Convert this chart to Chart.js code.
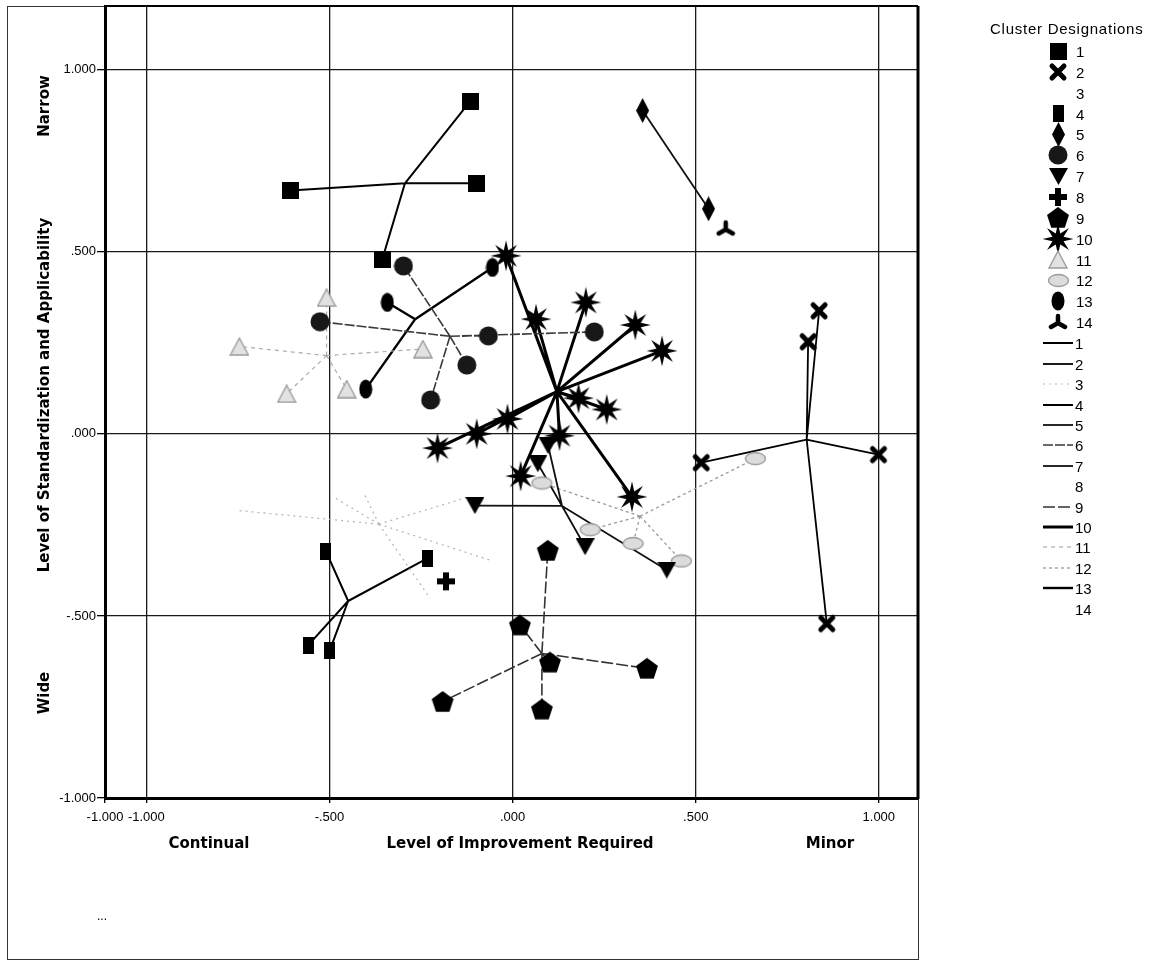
<!DOCTYPE html>
<html>
<head>
<meta charset="utf-8">
<script src="https://cdn.jsdelivr.net/npm/chart.js@4.4.0/dist/chart.umd.min.js"></script>
<style>
  body { margin: 0; background: #fff; }
  #wrap { position: relative; width: 1154px; height: 961px; overflow: hidden; }
  #frame { position: absolute; left: 7px; top: 6px; width: 910px; height: 952px; border: 1px solid #333; }
  #chart { position: absolute; left: 0; top: 0; }
  .t { position: absolute; font-family: "DejaVu Sans", sans-serif; font-weight: bold; font-size: 15px;
       white-space: nowrap; transform: translate(-50%, -50%); color: #000; line-height: 1; }
  .rot { transform: translate(-50%, -50%) rotate(-90deg); }
  .lg { position: absolute; font-family: "Liberation Sans", Arial, sans-serif; font-size: 15px;
        white-space: nowrap; transform: translateY(-50%); line-height: 1; color: #000; }
  .ic { position: absolute; }
</style>
</head>
<body>
<div id="wrap">
  <div id="frame"></div>
  <canvas id="chart" width="1154" height="961"></canvas>
</div>
<script>
// values: member points and cluster centres (x = improvement, y = standardization)
const clusterNames = ['1','2','3','4','5','6','7','8','9','10','11','12','13','14'];

const pts1 = [[-0.606, 0.668], [-0.116, 0.913], [-0.098, 0.688], [-0.356, 0.479]];
const pts2 = [[0.837, 0.338], [0.807, 0.253], [0.515, -0.079], [0.999, -0.057], [0.858, -0.521]];
const pts3 = [[-0.754, -0.210], [-0.136, -0.178], [-0.490, -0.173], [-0.403, -0.169], [-0.225, -0.452], [-0.061, -0.347]];
const pts4 = [[-0.510, -0.322], [-0.233, -0.342], [-0.558, -0.580], [-0.499, -0.594]];
const pts5 = [[0.355, 0.888], [0.535, 0.618]];
const pts6 = [[-0.298, 0.461], [-0.526, 0.308], [-0.066, 0.269], [-0.125, 0.189], [-0.224, 0.093], [0.223, 0.280]];
const pts7 = [[0.097, -0.032], [0.069, -0.082], [0.198, -0.310], [0.421, -0.374], [-0.103, -0.197]];
const pts8 = [[-0.182, -0.405]];
const pts9 = [[0.020, -0.525], [0.102, -0.627], [0.367, -0.644], [0.080, -0.756], [0.096, -0.320], [-0.191, -0.735]];
const pts10 = [[-0.018, 0.489], [0.064, 0.315], [0.200, 0.361], [0.335, 0.299], [0.408, 0.228], [0.180, 0.098],
               [0.257, 0.067], [-0.014, 0.041], [-0.098, 0.000], [-0.205, -0.039], [0.128, -0.005], [0.022, -0.116], [0.326, -0.173]];
const pts11 = [[-0.508, 0.374], [-0.746, 0.240], [-0.245, 0.233], [-0.617, 0.110], [-0.453, 0.123]];
const pts12 = [[0.663, -0.068], [0.080, -0.135], [0.212, -0.263], [0.329, -0.301], [0.461, -0.349]];
const pts13 = [[-0.342, 0.361], [-0.401, 0.123], [-0.055, 0.457]];
const pts14 = [[0.582, 0.564]];

const centres = [[-0.294, 0.688], [0.803, -0.016], [-0.365, -0.248], [-0.449, -0.459], [0.445, 0.753],
                 [-0.171, 0.268], [0.135, -0.198], null, [0.080, -0.603], [0.121, 0.116],
                 [-0.508, 0.215], [0.348, -0.226], [-0.266, 0.315], null];

const xTickValues = [-1.113, -1, -0.5, 0, 0.5, 1];
const xTickLabels = ['-1.000', '-1.000', '-.500', '.000', '.500', '1.000'];
const yTickValues = [-1, -0.5, 0, 0.5, 1];
const yTickLabels = ['-1.000', '-.500', '.000', '.500', '1.000'];

const allPts = [pts1, pts2, pts3, pts4, pts5, pts6, pts7, pts8, pts9, pts10, pts11, pts12, pts13, pts14];

// ---- marker glyphs ----
function mk(w, h, draw) {
  const c = document.createElement('canvas');
  c.width = w; c.height = h;
  draw(c.getContext('2d'), w, h);
  return c;
}
function poly(g, n, cx, cy, r, rot) {
  g.beginPath();
  for (let i = 0; i < n; i++) {
    const a = rot + i * 2 * Math.PI / n;
    const px = cx + r * Math.cos(a), py = cy + r * Math.sin(a);
    i ? g.lineTo(px, py) : g.moveTo(px, py);
  }
  g.closePath();
}
function makeMarker(k) {
  switch (k) {
    case 1: return mk(17, 17, g => { g.fillStyle = '#000'; g.fillRect(0, 0, 17, 17); });
    case 2: return mk(20, 20, g => {
      g.strokeStyle = '#000'; g.lineWidth = 5; g.lineCap = 'round';
      g.beginPath(); g.moveTo(4, 4); g.lineTo(16, 16); g.moveTo(16, 4); g.lineTo(4, 16); g.stroke();
    });
    case 3: return null;
    case 4: return mk(11, 17, g => { g.fillStyle = '#000'; g.fillRect(0, 0, 11, 17); });
    case 5: return mk(13, 25, g => {
      g.fillStyle = '#000'; g.beginPath();
      g.moveTo(6.5, 0); g.lineTo(13, 12.5); g.lineTo(6.5, 25); g.lineTo(0, 12.5); g.closePath(); g.fill();
    });
    case 6: return mk(20, 20, g => { g.fillStyle = '#181818'; g.beginPath(); g.arc(10, 10, 9.5, 0, 2 * Math.PI); g.fill(); });
    case 7: return mk(19, 17, g => {
      g.fillStyle = '#000'; g.beginPath(); g.moveTo(0, 0); g.lineTo(19, 0); g.lineTo(9.5, 17); g.closePath(); g.fill();
    });
    case 8: return mk(20, 20, g => { g.fillStyle = '#000'; g.fillRect(7, 1, 6, 18); g.fillRect(1, 7, 18, 6); });
    case 9: return mk(24, 23, g => { g.fillStyle = '#000'; poly(g, 5, 12, 12.5, 11.5, -Math.PI / 2); g.fill(); });
    case 10: return mk(32, 32, g => {
      g.fillStyle = '#000'; g.beginPath();
      for (let i = 0; i < 16; i++) {
        const r = i % 2 ? 6 : 15.5, a = -Math.PI / 2 + i * Math.PI / 8;
        const px = 16 + r * Math.cos(a), py = 16 + r * Math.sin(a);
        i ? g.lineTo(px, py) : g.moveTo(px, py);
      }
      g.closePath(); g.fill();
    });
    case 11: return mk(20, 19, g => {
      g.fillStyle = '#e2e2e2'; g.strokeStyle = '#9c9c9c'; g.lineWidth = 1.4;
      g.beginPath(); g.moveTo(10, 1); g.lineTo(19, 18); g.lineTo(1, 18); g.closePath(); g.fill(); g.stroke();
    });
    case 12: return mk(23, 15, g => {
      g.fillStyle = '#dcdcdc'; g.strokeStyle = '#9c9c9c'; g.lineWidth = 1.4;
      g.beginPath(); g.ellipse(11.5, 7.5, 10, 6, 0, 0, 2 * Math.PI); g.fill(); g.stroke();
    });
    case 13: return mk(14, 20, g => { g.fillStyle = '#000'; g.beginPath(); g.ellipse(7, 10, 6.5, 9.5, 0, 0, 2 * Math.PI); g.fill(); });
    case 14: return mk(20, 18, g => {
      g.strokeStyle = '#000'; g.lineWidth = 4.5; g.lineCap = 'round';
      g.beginPath(); g.moveTo(10, 10); g.lineTo(10, 3);
      g.moveTo(10, 10); g.lineTo(3, 14); g.moveTo(10, 10); g.lineTo(17, 14); g.stroke();
    });
  }
}

// line look of each cluster's centre-to-member spokes
const lineStyles = [
  { c: '#000', w: 2, d: [] }, { c: '#000', w: 1.8, d: [] }, { c: '#b4b4b4', w: 1.2, d: [2, 4] },
  { c: '#000', w: 2, d: [] }, { c: '#111', w: 1.8, d: [] }, { c: '#3a3a3a', w: 1.6, d: [10, 2] },
  { c: '#111', w: 1.8, d: [] }, null, { c: '#333', w: 1.6, d: [12, 3] }, { c: '#000', w: 3, d: [] },
  { c: '#aaaaaa', w: 1.2, d: [4, 4] }, { c: '#999', w: 1.3, d: [3, 3] }, { c: '#000', w: 2.4, d: [] }, null
];

const markers = clusterNames.map((n, i) => makeMarker(i + 1));

const datasets = [];
allPts.forEach((pts, i) => {
  const c = centres[i];
  if (c && lineStyles[i]) {
    const seg = [];
    pts.forEach(p => { seg.push({ x: c[0], y: c[1] }, { x: p[0], y: p[1] }, { x: null, y: null }); });
    datasets.push({
      label: 'line ' + clusterNames[i], data: seg, showLine: true, spanGaps: false,
      borderColor: lineStyles[i].c, borderWidth: lineStyles[i].w, borderDash: lineStyles[i].d,
      pointRadius: 0, pointHoverRadius: 0, order: 2
    });
  }
});
allPts.forEach((pts, i) => {
  datasets.push({
    label: clusterNames[i], data: pts.map(p => ({ x: p[0], y: p[1] })),
    pointStyle: markers[i] || 'circle', pointRadius: markers[i] ? 10 : 0,
    backgroundColor: '#000', borderColor: '#000', order: 1
  });
});

const frameBox = {
  id: 'frameBox',
  beforeDatasetsDraw(chart) {
    const a = chart.chartArea, g = chart.ctx;
    g.save();
    g.strokeStyle = '#000';
    g.lineWidth = 3;
    g.beginPath(); g.moveTo(a.right, a.top); g.lineTo(a.right, a.bottom + 1); g.stroke();
    g.lineWidth = 2;
    g.beginPath(); g.moveTo(a.left, a.top); g.lineTo(a.right, a.top); g.stroke();
    g.restore();
  }
};

new Chart(document.getElementById('chart'), {
  type: 'scatter',
  data: { datasets: datasets },
  plugins: [frameBox],
  options: {
    responsive: false,
    animation: false,
    events: [],
    layout: { autoPadding: false, padding: { left: 0, top: 6, right: 236, bottom: 133 } },
    plugins: { legend: { display: false }, tooltip: { enabled: false } },
    scales: {
      x: {
        type: 'linear', min: -1.113, max: 1.107,
        afterBuildTicks: s => { s.ticks = xTickValues.map(v => ({ value: v })); },
        afterFit: s => { s.height = 30; },
        ticks: {
          autoSkip: false, maxRotation: 0, color: '#000', padding: 7,
          font: { family: 'Liberation Sans', size: 13 },
          callback: (v, i) => xTickLabels[i]
        },
        grid: {
          color: ctx => (ctx.tick && ctx.tick.value < -1.05) ? 'rgba(0,0,0,0)' : '#1a1a1a',
          lineWidth: 1.3, tickLength: 5, tickColor: '#000'
        },
        border: { display: true, color: '#000', width: 3 }
      },
      y: {
        type: 'linear', min: -1, max: 1.175,
        afterBuildTicks: s => { s.ticks = yTickValues.map(v => ({ value: v })); },
        afterFit: s => { s.width = 105; s.paddingTop = 0; s.paddingBottom = 0; },
        ticks: {
          autoSkip: false, color: '#000', padding: 1,
          font: { family: 'Liberation Sans', size: 13 },
          callback: (v, i) => yTickLabels[i]
        },
        grid: { color: '#1a1a1a', lineWidth: 1.3, tickLength: 8, tickColor: '#000' },
        border: { display: true, color: '#000', width: 3 }
      }
    }
  }
});

// ---- axis annotations and legend ----
const wrap = document.getElementById('wrap');
function addText(txt, x, y, cls) {
  const d = document.createElement('div');
  d.className = cls; d.textContent = txt;
  d.style.left = x + 'px'; d.style.top = y + 'px';
  wrap.appendChild(d);
  return d;
}
addText('Level of Standardization and Applicability', 44, 395, 't rot');
addText('Narrow', 44, 106, 't rot');
addText('Wide', 44, 693, 't rot');
addText('Continual', 209, 843, 't');
addText('Level of Improvement Required', 520, 843, 't');
addText('Minor', 830, 843, 't');
const dots = addText('...', 97, 916, 'lg');
dots.style.fontSize = '12px';

const ttl = addText('Cluster Designations', 990, 28, 'lg');
ttl.style.letterSpacing = '0.75px';

clusterNames.forEach((n, i) => {
  const y = 51 + i * 20.85;
  const m = markers[i];
  if (m) {
    m.className = 'ic';
    m.style.left = (1058 - m.width / 2) + 'px';
    m.style.top = (y - m.height / 2) + 'px';
    wrap.appendChild(m);
  }
  addText(n, 1076, y, 'lg');
});

clusterNames.forEach((n, i) => {
  const y = 343.3 + i * 20.4;
  const st = lineStyles[i];
  if (st) {
    const c = mk(30, 6, g => {
      g.strokeStyle = st.c; g.lineWidth = st.w; g.setLineDash(st.d);
      g.beginPath(); g.moveTo(0, 3); g.lineTo(30, 3); g.stroke();
    });
    c.className = 'ic';
    c.style.left = '1043px'; c.style.top = (y - 3) + 'px';
    wrap.appendChild(c);
  }
  addText(n, 1075, y, 'lg');
});
</script>
</body>
</html>
